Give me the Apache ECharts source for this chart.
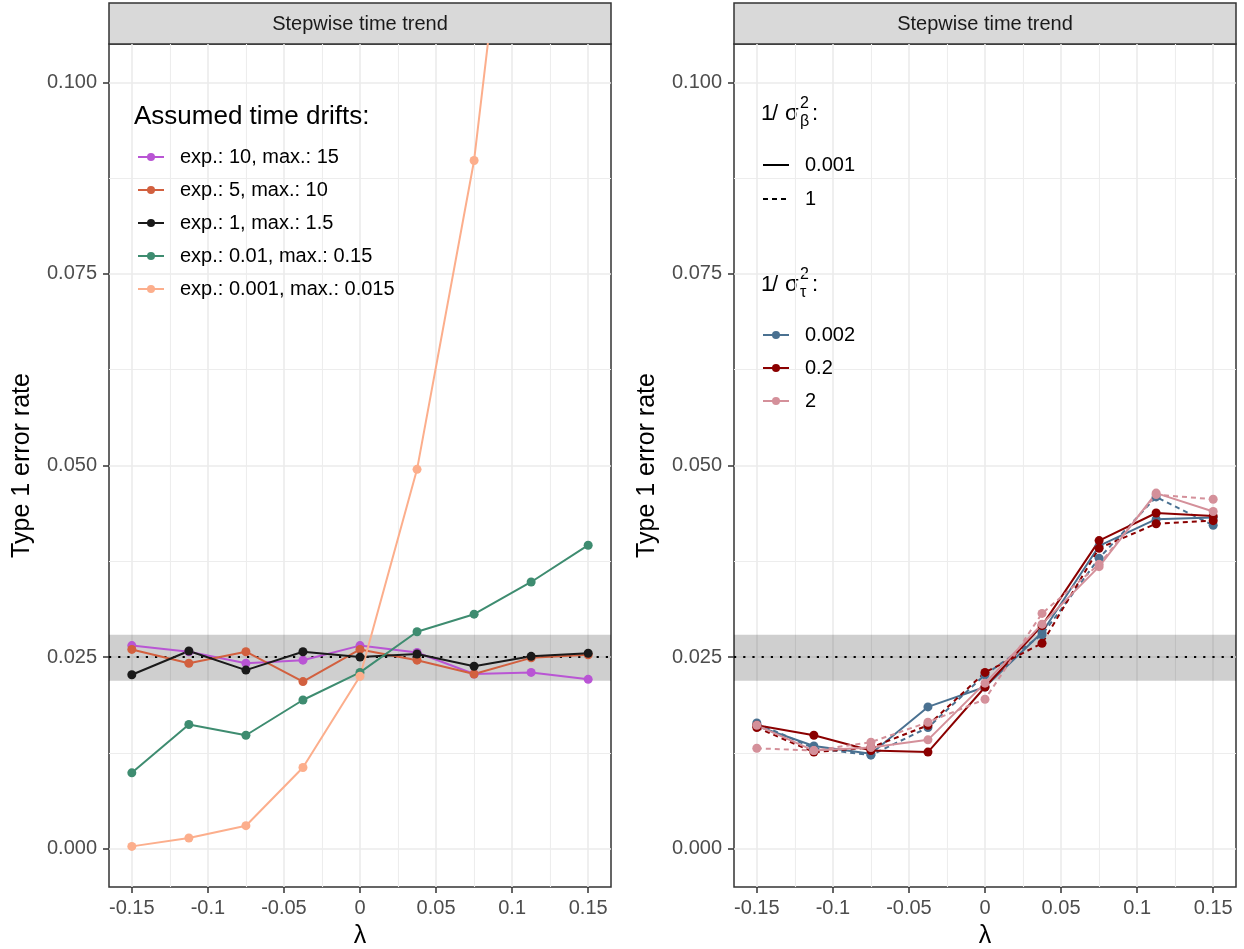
<!DOCTYPE html>
<html>
<head>
<meta charset="utf-8">
<title>Stepwise time trend</title>
<script src="https://cdn.jsdelivr.net/npm/echarts@6/dist/echarts.min.js"></script>
<style>
  html, body { margin: 0; padding: 0; background: #fff; }
  #main { width: 1244px; height: 949px; }
</style>
</head>
<body>
<div id="main"></div>
<script>
// lambda values where the type 1 error was simulated
const lambda = [-0.15, -0.1125, -0.075, -0.0375, 0, 0.0375, 0.075, 0.1125, 0.15];

const xTicks = [-0.15, -0.1, -0.05, 0, 0.05, 0.1, 0.15];
const xMinor = [-0.125, -0.075, -0.025, 0.025, 0.075, 0.125];
const yTicks = [0, 0.025, 0.05, 0.075, 0.1];
const yMinor = [0.0125, 0.0375, 0.0625, 0.0875];

// nominal level and its acceptance band
const nominal = 0.025;
const refBand = [0.0219, 0.0279];

// left panel: assumed time drifts
const driftNames = ['exp.: 10, max.: 15', 'exp.: 5, max.: 10', 'exp.: 1, max.: 1.5',
  'exp.: 0.01, max.: 0.15', 'exp.: 0.001, max.: 0.015'];
const driftColors = ['#B955D4', '#D2603F', '#1A1A1A', '#3E8C70', '#FCAE8C'];
const drift10 = [0.0265, 0.0257, 0.0242, 0.0246, 0.0265, 0.0256, 0.0228, 0.0230, 0.0221];
const drift5 = [0.0260, 0.0242, 0.0257, 0.0218, 0.0260, 0.0246, 0.0228, 0.0249, 0.0253];
const drift1 = [0.0227, 0.0258, 0.0233, 0.0257, 0.0250, 0.0254, 0.0238, 0.0251, 0.0255];
const drift001 = [0.0099, 0.0162, 0.0148, 0.0194, 0.0230, 0.0283, 0.0306, 0.0348, 0.0396];
const drift0001 = [0.0003, 0.0014, 0.0030, 0.0106, 0.0225, 0.0495, 0.0898, 0.153, 0.22];

// right panel: precisions 1/sigma_tau^2 (colour) x 1/sigma_beta^2 (linetype)
const tauLevels = ['0.002', '0.2', '2'];
const tauColors = ['#4A7191', '#8B0000', '#D4909A'];
const betaLevels = ['0.001', '1'];
const tau0002beta0001 = [0.0160, 0.0134, 0.0124, 0.0185, 0.0211, 0.0282, 0.0395, 0.0430, 0.0432];
const tau0002beta1 = [0.0164, 0.0131, 0.0122, 0.0158, 0.0227, 0.0279, 0.0379, 0.0459, 0.0422];
const tau02beta0001 = [0.0161, 0.0148, 0.0128, 0.0126, 0.0211, 0.0291, 0.0402, 0.0438, 0.0434];
const tau02beta1 = [0.0158, 0.0126, 0.0132, 0.0161, 0.0230, 0.0268, 0.0392, 0.0424, 0.0428];
const tau2beta0001 = [0.0161, 0.0128, 0.0132, 0.0142, 0.0216, 0.0293, 0.0368, 0.0464, 0.0440];
const tau2beta1 = [0.0131, 0.0128, 0.0139, 0.0165, 0.0195, 0.0307, 0.0371, 0.0462, 0.0456];

const FONT = '"Liberation Sans", Arial, Helvetica, sans-serif';
const DASH = [5, 4];
const LW = 2;

const toPairs = vals => vals.map((v, i) => [lambda[i], v]);

const panels = [{ left: 109 }, { left: 734 }];
const grids = panels.map(p => ({
  left: p.left, top: 44, width: 502, height: 843,
  outerBoundsMode: 'none',
  show: true, borderColor: '#333', borderWidth: 1.5, backgroundColor: '#fff'
}));

const xAxes = [];
const yAxes = [];
panels.forEach((p, g) => {
  xAxes.push({
    type: 'value', gridIndex: g, min: -0.165, max: 0.165, position: 'bottom',
    name: 'λ', nameLocation: 'middle', nameGap: 37,
    nameTextStyle: { fontSize: 25, color: '#000', fontFamily: FONT },
    axisLine: { show: false, onZero: false },
    axisTick: { show: true, length: 6, lineStyle: { color: '#333', width: 1.5 }, customValues: xTicks },
    axisLabel: { customValues: xTicks, formatter: v => String(v), fontSize: 20, color: '#4D4D4D', fontFamily: FONT, margin: 11 },
    splitLine: { show: true, lineStyle: { color: '#EBEBEB', width: 1.6 } }
  });
  xAxes.push({
    type: 'value', gridIndex: g, min: -0.165, max: 0.165, position: 'bottom',
    axisLine: { show: false, onZero: false },
    axisTick: { show: false, customValues: xMinor },
    axisLabel: { show: false, customValues: xMinor },
    splitLine: { show: true, lineStyle: { color: '#EDEDED', width: 1.1 } }
  });
  yAxes.push({
    type: 'value', gridIndex: g, min: -0.005, max: 0.105, position: 'left',
    name: 'Type 1 error rate', nameLocation: 'middle', nameGap: 74,
    nameTextStyle: { fontSize: 25, color: '#000', fontFamily: FONT },
    axisLine: { show: false, onZero: false },
    axisTick: { show: true, length: 6, lineStyle: { color: '#333', width: 1.5 }, customValues: yTicks },
    axisLabel: { customValues: yTicks, formatter: v => v.toFixed(3), fontSize: 20, color: '#4D4D4D', fontFamily: FONT, margin: 12 },
    splitLine: { show: true, lineStyle: { color: '#EBEBEB', width: 1.6 } }
  });
  yAxes.push({
    type: 'value', gridIndex: g, min: -0.005, max: 0.105, position: 'left',
    axisLine: { show: false, onZero: false },
    axisTick: { show: false, customValues: yMinor },
    axisLabel: { show: false, customValues: yMinor },
    splitLine: { show: true, lineStyle: { color: '#EDEDED', width: 1.1 } }
  });
});

// band + dotted nominal line, one per panel
function refSeries(g) {
  return {
    type: 'line', name: 'ref' + g, xAxisIndex: g * 2, yAxisIndex: g * 2, data: [], z: 1,
    markArea: {
      silent: true, z: 1,
      itemStyle: { color: 'rgba(0,0,0,0.19)' },
      data: [[{ yAxis: refBand[0] }, { yAxis: refBand[1] }]]
    },
    markLine: {
      silent: true, z: 1, symbol: 'none', precision: 5, label: { show: false },
      lineStyle: { color: '#000', width: 2.2, type: [2.2, 7] },
      data: [{ yAxis: nominal }]
    }
  };
}

function lineSeries(name, vals, color, g, dashed) {
  return {
    type: 'line', name: name, xAxisIndex: g * 2, yAxisIndex: g * 2,
    data: toPairs(vals), symbol: 'circle', symbolSize: 9,
    itemStyle: { color: color },
    lineStyle: { color: color, width: LW, type: dashed ? DASH : 'solid' },
    emphasis: { disabled: true }
  };
}

const driftValues = [drift10, drift5, drift1, drift001, drift0001];
const rightValues = [
  [tau0002beta0001, tau0002beta1],
  [tau02beta0001, tau02beta1],
  [tau2beta0001, tau2beta1]
];

const series = [refSeries(0), refSeries(1)];
driftValues.forEach((vals, i) => series.push(lineSeries(driftNames[i], vals, driftColors[i], 0, false)));
rightValues.forEach((pair, t) => {
  pair.forEach((vals, b) => {
    series.push(lineSeries('tau ' + tauLevels[t] + ' beta ' + betaLevels[b], vals, tauColors[t], 1, b === 1));
  });
});
// legend-only entries for the right panel
betaLevels.forEach((lv, b) => series.push({
  type: 'line', name: lv, xAxisIndex: 2, yAxisIndex: 2, data: [], symbol: 'none',
  lineStyle: { color: '#000', width: LW, type: b === 1 ? DASH : 'solid' }
}));
tauLevels.forEach((lv, t) => series.push({
  type: 'line', name: lv, xAxisIndex: 2, yAxisIndex: 2, data: [], symbol: 'circle',
  itemStyle: { color: tauColors[t] }, lineStyle: { color: tauColors[t], width: LW }
}));

const legendBase = {
  orient: 'vertical', padding: 0, itemWidth: 26, itemHeight: 10, itemGap: 13,
  selectedMode: false,
  textStyle: { fontSize: 20, color: '#000', fontFamily: FONT, padding: [0, 0, 0, 11] }
};

const legends = [
  Object.assign({}, legendBase, { left: 137, top: 147, data: driftNames }),
  Object.assign({}, legendBase, {
    left: 762, top: 155, itemGap: 14,
    data: betaLevels.map((lv, b) => ({
      name: lv,
      itemStyle: { color: 'rgba(0,0,0,0)', borderColor: 'rgba(0,0,0,0)' },
      lineStyle: { color: '#000', width: LW, type: b === 1 ? DASH : 'solid' }
    }))
  }),
  Object.assign({}, legendBase, { left: 762, top: 325, data: tauLevels })
];

function strip(left) {
  return {
    type: 'group', x: left, y: 3, z: 10,
    children: [
      { type: 'rect', shape: { x: 0, y: 0, width: 502, height: 41 },
        style: { fill: '#D9D9D9', stroke: '#333', lineWidth: 1.5 } },
      { type: 'text', x: 251, y: 21,
        style: { text: 'Stepwise time trend', fill: '#1A1A1A', font: '20px ' + FONT, align: 'center', verticalAlign: 'middle' } }
    ]
  };
}

function precTitle(y, sub) {
  const big = '22px ' + FONT;
  const small = '16px ' + FONT;
  return {
    type: 'group', x: 761, y: y, z: 10,
    children: [
      { type: 'text', x: 0, y: 0, style: { text: '1', fill: '#000', font: big, verticalAlign: 'top' } },
      { type: 'text', x: 11, y: 0, style: { text: '/', fill: '#000', font: big, verticalAlign: 'top' } },
      { type: 'text', x: 24, y: 0, style: { text: 'σ', fill: '#000', font: big, verticalAlign: 'top' } },
      { type: 'text', x: 39, y: -7, style: { text: '2', fill: '#000', font: small, verticalAlign: 'top' } },
      { type: 'text', x: 39, y: 11, style: { text: sub, fill: '#000', font: small, verticalAlign: 'top' } },
      { type: 'text', x: 51, y: 0, style: { text: ':', fill: '#000', font: big, verticalAlign: 'top' } }
    ]
  };
}

const graphics = [
  strip(109), strip(734),
  { type: 'text', x: 134, y: 104, z: 10,
    style: { text: 'Assumed time drifts:', fill: '#000', font: '26px ' + FONT, verticalAlign: 'top' } },
  precTitle(103, 'β'),
  precTitle(274, 'τ')
];

const chart = echarts.init(document.getElementById('main'), null, { renderer: 'canvas' });
chart.setOption({
  animation: false,
  backgroundColor: '#fff',
  textStyle: { fontFamily: FONT },
  grid: grids,
  xAxis: xAxes,
  yAxis: yAxes,
  legend: legends,
  graphic: graphics,
  series: series
});
</script>
</body>
</html>
